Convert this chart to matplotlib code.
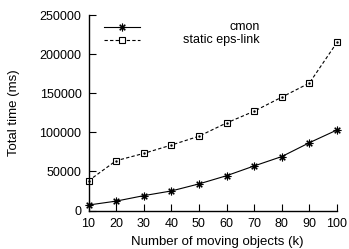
import matplotlib
matplotlib.use('Agg')
import matplotlib.pyplot as plt
from matplotlib.lines import Line2D

plt.rcParams['font.family'] = ['Liberation Sans', 'DejaVu Sans']
plt.rcParams['font.size'] = 9

# data
objects_k = [10, 20, 30, 40, 50, 60, 70, 80, 90, 100]
cmon = [7000, 12000, 19000, 25000, 34000, 44500, 57000, 69000, 86700, 103000]
eps_link = [38000, 63700, 73000, 83700, 95000, 112000, 127000, 145000, 163000, 215000]
series_names = ['cmon', 'static eps-link']
yticks = [0, 50000, 100000, 150000, 200000, 250000]

fig = plt.figure(figsize=(3.49, 2.49), dpi=100)
ax = fig.add_axes([0.2536, 0.1546, 0.712, 0.785])

star = (8, 2, 0)
ax.plot(objects_k, cmon, color='black', lw=0.8, marker=star, ms=5.5, mew=0.8, clip_on=False)
ax.plot(objects_k, eps_link, color='black', lw=0.8, ls=(0, (3, 2)), marker='s', ms=5,
        mfc='white', mec='black', mew=0.8, clip_on=False)
ax.plot(objects_k, eps_link, ls='none', marker='.', ms=1.5, color='black', clip_on=False)

ax.set_xlim(10, 100)
ax.set_ylim(0, 250000)
ax.set_xticks(objects_k)
ax.set_yticks(yticks)
ax.tick_params(direction='in', length=5, width=0.8, colors='black')
ax.tick_params(axis='x', pad=5.5)
ax.tick_params(axis='y', pad=5)
for s in ['top', 'right']:
    ax.spines[s].set_visible(False)
for s in ['left', 'bottom']:
    ax.spines[s].set_linewidth(1.0)

ax.set_xlabel('Number of moving objects (k)', fontsize=9.5)
ax.set_ylabel('Total time (ms)', fontsize=9.5)
ax.xaxis.set_label_coords(0.517, -0.161)
ax.yaxis.set_label_coords(-0.30, 0.5)
ax.xaxis.label.set_va('center')
ax.yaxis.label.set_va('center')

# gnuplot-style key: sample on the left, text right-aligned
key_rows = [(0.9386, dict(ls='-', marker=star, ms=5.5, mfc='black')),
            (0.872, dict(ls=(0, (3, 2)), marker='s', ms=5, mfc='white'))]
for name, (yy, st) in zip(series_names, key_rows):
    ax.add_line(Line2D([0.062, 0.207], [yy, yy], transform=ax.transAxes, color='black',
                       lw=0.8, ls=st['ls'], clip_on=False))
    ax.add_line(Line2D([0.1345], [yy], transform=ax.transAxes, color='black', ls='none',
                       marker=st['marker'], ms=st['ms'], mfc=st['mfc'], mec='black',
                       mew=0.8, clip_on=False))
    ax.text(0.690, yy, name, transform=ax.transAxes, ha='right', va='center')

fig.savefig('out.png', dpi=100)
